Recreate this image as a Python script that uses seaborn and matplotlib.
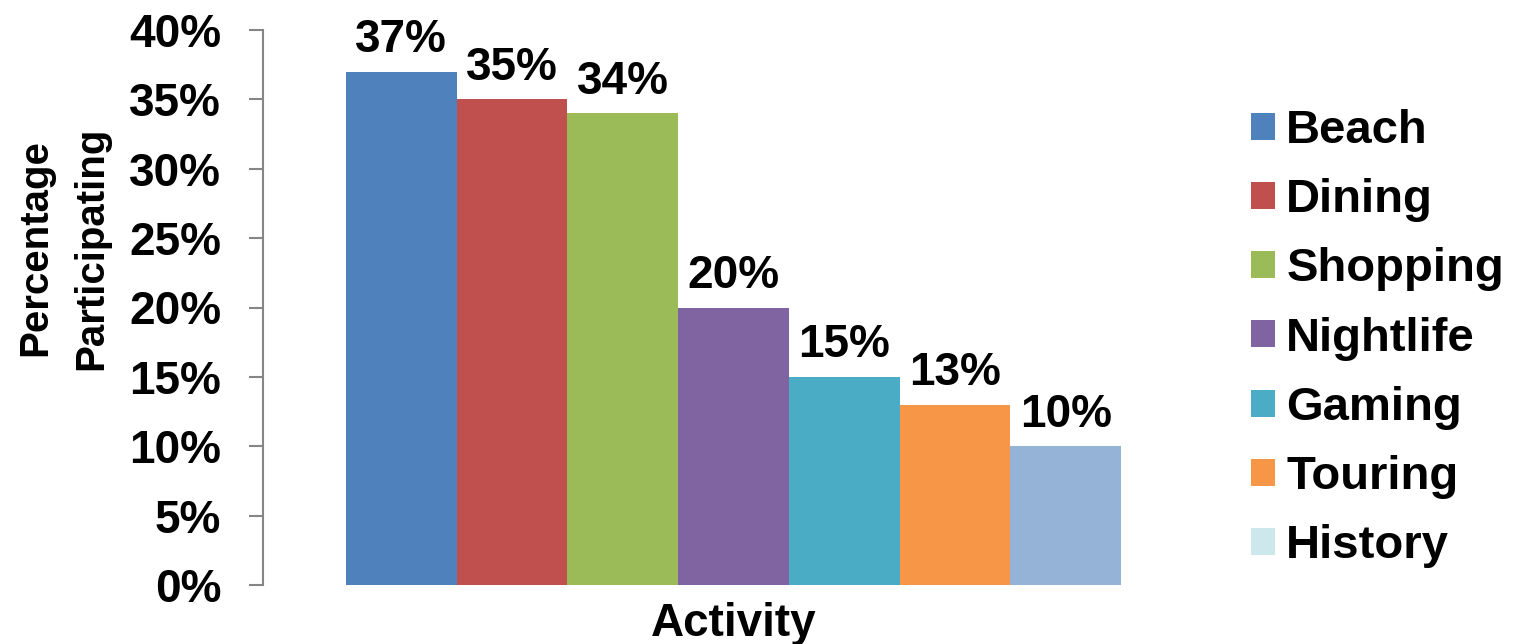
import matplotlib
matplotlib.use("Agg")
import matplotlib.pyplot as plt
import seaborn as sns
import pandas as pd
from matplotlib.patches import Patch
from matplotlib.ticker import PercentFormatter, FixedLocator

# ---- data ----
activities = ["Beach", "Dining", "Shopping", "Nightlife", "Gaming", "Touring", "History"]
percentages = [37, 35, 34, 20, 15, 13, 10]
bar_colors = ["#4f81bd", "#c0504d", "#9bbb59", "#8064a2", "#4bacc6", "#f79646", "#95b3d7"]
legend_colors = ["#4f81bd", "#c0504d", "#9bbb59", "#8064a2", "#4bacc6", "#f79646", "#cde8ec"]
y_ticks = [0, 5, 10, 15, 20, 25, 30, 35, 40]
x_label = "Activity"
y_label = "Percentage\nParticipating"

sns.set_theme(style="white")
plt.rcParams["font.family"] = ["Liberation Sans", "DejaVu Sans"]
plt.rcParams["font.weight"] = "bold"
plt.rcParams["text.color"] = "black"
plt.rcParams["axes.labelcolor"] = "black"

W, H = 1515, 644
fig = plt.figure(figsize=(W / 100, H / 100), dpi=100)
fig.patch.set_facecolor("white")
ax = fig.add_axes([263 / W, 1 - 585 / H, (1204 - 263) / W, (585 - 30) / H])

df = pd.DataFrame({"group": [x_label] * len(activities),
                   "activity": activities,
                   "pct": percentages})
sns.barplot(data=df, x="group", y="pct", hue="activity", hue_order=activities,
            palette=bar_colors, width=0.8236, saturation=1, legend=False,
            linewidth=0, edgecolor="none", ax=ax)

ax.set_xlim(-0.5, 0.5)
ax.set_ylim(0, 40)
ax.yaxis.set_major_locator(FixedLocator(y_ticks))
ax.yaxis.set_major_formatter(PercentFormatter(xmax=100, decimals=0))

for c in ax.containers:
    ax.bar_label(c, fmt="{:.0f}%", padding=7, fontsize=33, fontweight="bold", color="black")

for s in ["top", "right", "bottom"]:
    ax.spines[s].set_visible(False)
ax.spines["left"].set_color("#868686")
ax.spines["left"].set_linewidth(1.5)

ax.tick_params(axis="y", direction="out", length=10, width=1.5, color="#868686",
               pad=20, labelsize=33, left=True, labelcolor="black")
ax.tick_params(axis="x", length=0, labelbottom=False)
for t in ax.get_yticklabels():
    t.set_fontweight("bold")

ax.set_xlabel(x_label, fontsize=33, fontweight="bold", labelpad=12, color="black")
ax.set_ylabel(y_label, fontsize=29, fontweight="bold", color="black", linespacing=1.6)
ax.yaxis.set_label_coords((110 - 263) / 941, (585 - 248) / 555)

handles = [Patch(facecolor=c, edgecolor="none") for c in legend_colors]
leg = fig.legend(handles, activities, loc="upper left", bbox_to_anchor=(1232 / W, 1 - 90 / H),
                 frameon=False, fontsize=34, handlelength=0.5, handleheight=0.5,
                 handletextpad=0.25, labelspacing=0.535, borderaxespad=0)
for t in leg.get_texts():
    t.set_fontweight("bold")
    t.set_color("black")

fig.savefig("out.png", dpi=100, facecolor="white")
